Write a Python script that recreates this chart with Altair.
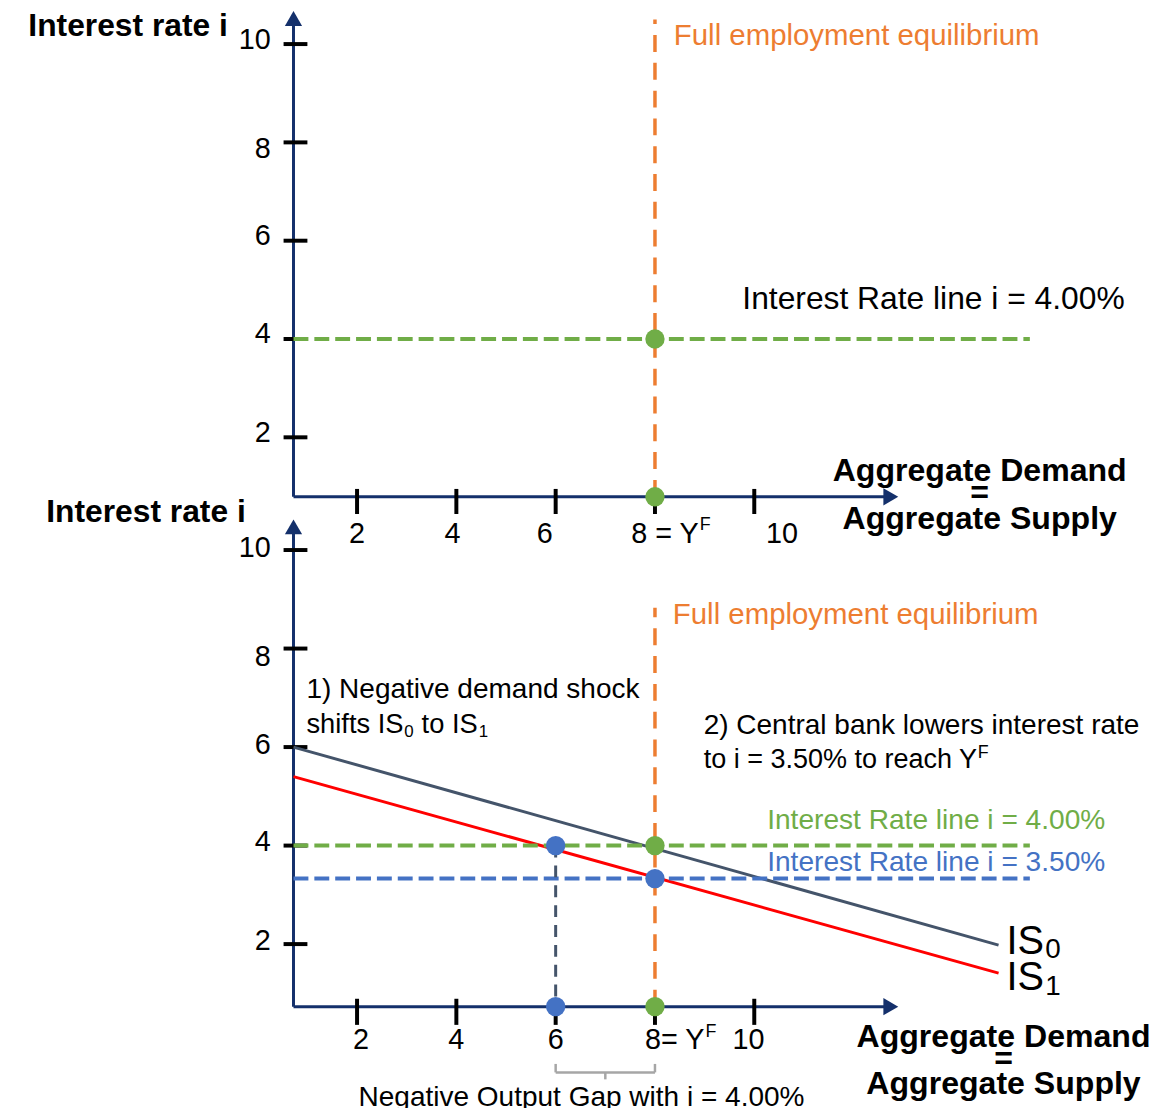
import altair as alt
import pandas as pd

# ---------------- data (model units) ----------------
X_TICKS = [2, 4, 6, 8, 10]
Y_TICKS = [2, 4, 6, 8, 10]
AXIS_X0 = 0.72          # where the y axis sits on the output scale
TOP_Y0 = 0.79           # where the x axis sits on the rate scale (top panel)
BOT_Y0 = 0.73           # same, bottom panel
X_AXIS_END = 12.75
TOP_Y_AXIS_END = 10.52
BOT_Y_AXIS_END = 10.47
Y_FULL = 8              # full employment output Y^F
Y_GAP = 6               # output after the shock at i = 4 %
RATE_OLD = 4.00
RATE_NEW = 3.33
RATE_LINE_END = 15.55
TOP_FE_TOP = 10.50
BOT_FE_TOP = 8.83
IS_X = [0.72, 14.92]
IS0_Y = [6.00, 1.98]
IS1_Y = [5.40, 1.41]

FONT = "Liberation Sans, Arial, sans-serif"
NAVY = "#14306B"
ORANGE = "#ED7D31"
GREEN = "#70AD47"
BLUE = "#4472C4"
SLATE = "#44546A"
RED = "#FF0000"
GRAY = "#A6A6A6"

X = alt.Scale(domain=[-5.03, 17.97])
YT = alt.Scale(domain=[-11.566, 10.656])
YB = alt.Scale(domain=[-1.250, 20.927])


def segs(rows, ys, color, width, dash=None):
    df = pd.DataFrame(rows, columns=["x", "x2", "y", "y2"])
    kw = dict(color=color, strokeWidth=width)
    if dash:
        kw["strokeDash"] = dash
    return alt.Chart(df).mark_rule(**kw).encode(
        x=alt.X("x:Q", scale=X, axis=None), x2="x2:Q",
        y=alt.Y("y:Q", scale=ys, axis=None), y2="y2:Q")


def dots(rows, ys, color, shape="circle", size=380):
    df = pd.DataFrame(rows, columns=["x", "y"])
    return alt.Chart(df).mark_point(filled=True, opacity=1, shape=shape, size=size,
                                    color=color).encode(
        x=alt.X("x:Q", scale=X, axis=None), y=alt.Y("y:Q", scale=ys, axis=None))


def texts(rows, ys, size, color="black", weight="normal", align="left"):
    df = pd.DataFrame(rows, columns=["label", "x", "y"])
    return alt.Chart(df).mark_text(font=FONT, fontSize=size, fontWeight=weight, align=align,
                                   baseline="middle", color=color).encode(
        x=alt.X("x:Q", scale=X, axis=None), y=alt.Y("y:Q", scale=ys, axis=None),
        text="label:N")


def line(xs, yvals, ys, color, width):
    df = pd.DataFrame({"x": xs, "y": yvals})
    return alt.Chart(df).mark_line(color=color, strokeWidth=width).encode(
        x=alt.X("x:Q", scale=X, axis=None), y=alt.Y("y:Q", scale=ys, axis=None))


def axes(ys, y0, ytop):
    return [
        segs([[AXIS_X0, AXIS_X0, y0, ytop]], ys, NAVY, 3),
        segs([[AXIS_X0, X_AXIS_END, y0, y0]], ys, NAVY, 3),
        dots([[AXIS_X0, ytop]], ys, NAVY, "triangle-up", 300),
        dots([[X_AXIS_END, y0]], ys, NAVY, "triangle-right", 300),
    ]


# ---------------- top panel ----------------
top_layers = axes(YT, TOP_Y0, TOP_Y_AXIS_END) + [
    segs([[0.52, 1.0, v, v] for v in Y_TICKS], YT, "black", 4),
    segs([[v, v, 0.95, 0.44] for v in X_TICKS], YT, "black", 4),
    segs([[AXIS_X0, RATE_LINE_END, RATE_OLD, RATE_OLD]], YT, GREEN, 4, [15, 6]),
    segs([[Y_FULL, Y_FULL, TOP_Y0, TOP_FE_TOP]], YT, ORANGE, 3.5, [17, 11]),
    dots([[Y_FULL, RATE_OLD], [Y_FULL, TOP_Y0]], YT, GREEN),
    texts([["Interest rate i", -4.62, 10.36]], YT, 32, weight="bold"),
    texts([[str(v), 0.26, yy] for v, yy in zip(Y_TICKS, [2.08, 4.10, 6.10, 7.86, 10.08])],
          YT, 29, align="right"),
    texts([["2", 2.0, 0.04], ["4", 3.92, 0.04], ["6", 5.78, 0.04], ["10", 10.56, 0.04]],
          YT, 29, align="center"),
    texts([["8 = Y", 7.52, 0.04]], YT, 29),
    texts([["F", 8.90, 0.22]], YT, 18),
    texts([["Full employment equilibrium", 8.38, 10.16]], YT, 29.6, color=ORANGE),
    texts([["Interest Rate line i = 4.00%", 9.76, 4.81]], YT, 32),
    texts([["Aggregate Demand", 14.54, 1.31], ["=", 14.54, 0.87],
           ["Aggregate Supply", 14.54, 0.34]], YT, 32.3, weight="bold", align="center"),
]
top = alt.layer(*top_layers)

# ---------------- bottom panel ----------------
bot_layers = axes(YB, BOT_Y0, BOT_Y_AXIS_END) + [
    segs([[0.52, 1.0, v, v] for v in Y_TICKS], YB, "black", 4),
    segs([[v, v, 0.89, 0.36] for v in X_TICKS], YB, "black", 4),
    line(IS_X, IS0_Y, YB, SLATE, 3),
    line(IS_X, IS1_Y, YB, RED, 3),
    segs([[AXIS_X0, RATE_LINE_END, RATE_OLD, RATE_OLD]], YB, GREEN, 4, [15, 6]),
    segs([[AXIS_X0, RATE_LINE_END, RATE_NEW, RATE_NEW]], YB, BLUE, 4, [15, 6]),
    segs([[Y_GAP, Y_GAP, RATE_OLD, BOT_Y0]], YB, SLATE, 3, [12, 8]),
    segs([[Y_FULL, Y_FULL, BOT_Y0, BOT_FE_TOP]], YB, ORANGE, 3.5, [17, 11]),
    segs([[Y_GAP, Y_FULL, -0.605, -0.605], [Y_GAP, Y_GAP, -0.605, -0.433],
          [Y_FULL, Y_FULL, -0.605, -0.433], [7.0, 7.0, -0.605, -0.746]], YB, GRAY, 2.5),
    dots([[Y_FULL, RATE_OLD], [Y_FULL, BOT_Y0]], YB, GREEN),
    dots([[Y_FULL, RATE_NEW], [Y_GAP, RATE_OLD], [Y_GAP, BOT_Y0]], YB, BLUE),
    texts([["Interest rate i", -4.26, 10.77]], YB, 32, weight="bold"),
    texts([[str(v), 0.26, yy] for v, yy in zip(Y_TICKS, [2.06, 4.07, 6.05, 7.82, 10.04])],
          YB, 29, align="right"),
    texts([["2", 2.08, 0.06], ["4", 4.0, 0.06], ["6", 6.0, 0.06]], YB, 29, align="center"),
    texts([["8= Y", 7.8, 0.06], ["10", 9.56, 0.06]], YB, 29),
    texts([["F", 9.02, 0.22]], YB, 18),
    texts([["Full employment equilibrium", 8.36, 8.67]], YB, 29.6, color=ORANGE),
    texts([["1) Negative demand shock", 0.98, 7.16]], YB, 28.2),
    texts([["shifts IS", 0.98, 6.45], ["to IS", 3.30, 6.45]], YB, 27.5),
    texts([["0", 2.95, 6.31], ["1", 4.45, 6.31]], YB, 17),
    texts([["2) Central bank lowers interest rate", 8.98, 6.43]], YB, 28.2),
    texts([["to i = 3.50% to reach Y", 8.98, 5.73]], YB, 27.2),
    texts([["F", 14.50, 5.87]], YB, 18),
    texts([["Interest Rate line i = 4.00%", 10.26, 4.50]], YB, 28.3, color=GREEN),
    texts([["Interest Rate line i = 3.50%", 10.26, 3.65]], YB, 28.3, color=BLUE),
    texts([["IS", 15.08, 2.04], ["IS", 15.08, 1.31]], YB, 40),
    texts([["0", 15.86, 1.88], ["1", 15.86, 1.13]], YB, 28),
    texts([["Aggregate Demand", 15.02, 0.12], ["=", 15.02, -0.34],
           ["Aggregate Supply", 15.02, -0.85]], YB, 32.3, weight="bold", align="center"),
    texts([["Negative Output Gap with i = 4.00%", 6.52, -1.13]], YB, 28.2, align="center"),
]
bottom = alt.layer(*bot_layers)

chart = alt.layer(top, bottom).resolve_scale(y="independent").properties(
    width=1150, height=1100, padding=0,
    autosize=alt.AutoSizeParams(type="none"),
).configure_view(stroke=None)

chart.save("out.html", embed_options={"renderer": "svg", "actions": False})
